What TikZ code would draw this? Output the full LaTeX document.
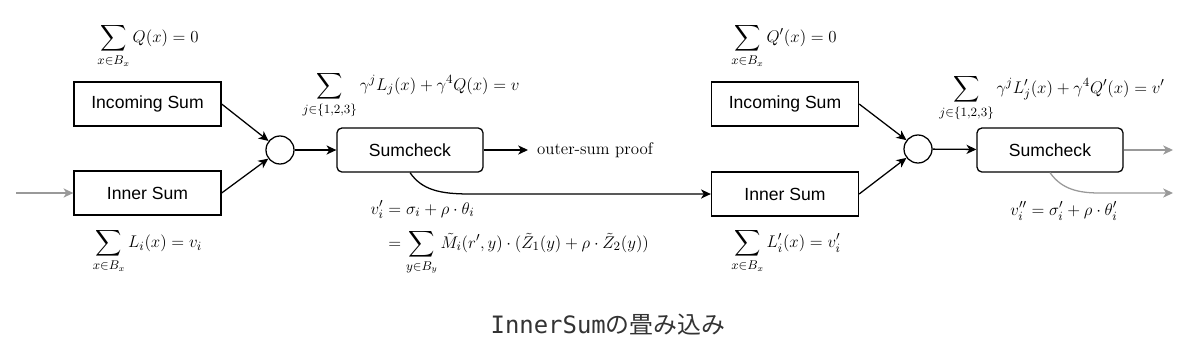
\documentclass[tikz,border=0pt]{standalone}
\usepackage{amsmath, amssymb}
\usepackage{fontspec}
\setsansfont{Liberation Sans}
\newfontfamily\jpfont{Noto Sans CJK JP}
\newfontfamily\capmono{DejaVu Sans Mono}
\usetikzlibrary{positioning, arrows.meta, calc}

\begin{document}
\begin{tikzpicture}[x=0.025cm, y=-0.025cm, >={Stealth[length=7pt, width=6.5pt, inset=2pt]}, line width=0.9pt,
    sumbox/.style={rectangle, draw, minimum width=3.675cm, minimum height=1.1cm, font=\sffamily\fontsize{12.5}{14}\selectfont},
    checkbox/.style={sumbox, rounded corners=3.5pt, minimum width=3.65cm},
    joint/.style={circle, draw, minimum size=0.7cm, inner sep=0pt},
    eqn/.style={inner sep=0pt, font=\fontsize{13}{16}\selectfont},
    feed/.style={->, draw=black!40}]
    \useasboundingbox (0,0) rectangle (1200,363);

    % Nodes
    \node[sumbox] (inc1) at (147.5,104) {Incoming Sum};
    \node[sumbox] (inner1) at (147.5,193) {Inner Sum};
    \node[joint] (c1) at (280,150) {};
    \node[checkbox] (sc1) at (410,150) {Sumcheck};
    \node[right, inner xsep=6pt, font=\fontsize{12}{14}\selectfont] (proof) at (528,150) {outer-sum proof};

    \node[sumbox] (inc2) at (785,104) {Incoming Sum};
    \node[sumbox] (inner2) at (785,194) {Inner Sum};
    \node[joint] (c2) at (918,149) {};
    \node[checkbox] (sc2) at (1050,150) {Sumcheck};
    \coordinate (in0) at (16,193);
    \coordinate (out1) at (1173,150);
    \coordinate (out2) at (1173,193);

    % Labels
    \node[eqn] (qsum1) at (148,46) {$\displaystyle\sum_{x\in B_x} Q(x)=0$};
    \node[eqn] (lsum1) at (147.5,251) {$\displaystyle\sum_{x\in B_x} L_i(x)=v_i$};
    \node[eqn] (gsum1) at (411,95) {$\displaystyle\sum_{j\in\{1,2,3\}} \gamma^jL_j(x)+\gamma^4Q(x)=v$};
    \node[eqn, anchor=west] (vsum1) at (370,237) {$\begin{aligned}v_i'&=\sigma_i+\rho\cdot\theta_i\\[2pt] &=\sum_{y\in B_y}\tilde{M}_i(r',y)\cdot(\tilde{Z}_1(y)+\rho\cdot\tilde{Z}_2(y))\end{aligned}$};
    \node[eqn] (qsum2) at (784,46) {$\displaystyle\sum_{x\in B_x} Q'(x)=0$};
    \node[eqn] (lsum2) at (786,251) {$\displaystyle\sum_{x\in B_x} L_i'(x)=v_i'$};
    \node[eqn] (gsum2) at (1052,98) {$\displaystyle\sum_{j\in\{1,2,3\}} \gamma^jL_j'(x)+\gamma^4Q'(x)=v'$};
    \node[eqn] (vsum2) at (1064,211) {$v_i''=\sigma_i'+\rho\cdot\theta_i'$};

    \node[text=black!80, font=\fontsize{17}{20}\selectfont] (title) at (608,325) {\capmono InnerSum\jpfont の畳み込み};

    % Edges
    \draw[feed] (in0) -- (inner1);
    \draw[->] (inc1.east) -- (c1);
    \draw[->] (inner1.east) -- (c1);
    \draw[->] (c1) -- (sc1);
    \draw[->] (sc1) -- (proof);
    \draw[->] (sc1.south) .. controls (422,190) and (440,194) .. (470,194) -- (inner2.west);
    \draw[->] (inc2.east) -- (c2);
    \draw[->] (inner2.east) -- (c2);
    \draw[->] (c2) -- (sc2);
    \draw[feed] (sc2) -- (out1);
    \draw[feed] (sc2.south) .. controls (1062,190) and (1080,193) .. (1100,193) -- (out2);
\end{tikzpicture}
\end{document}
